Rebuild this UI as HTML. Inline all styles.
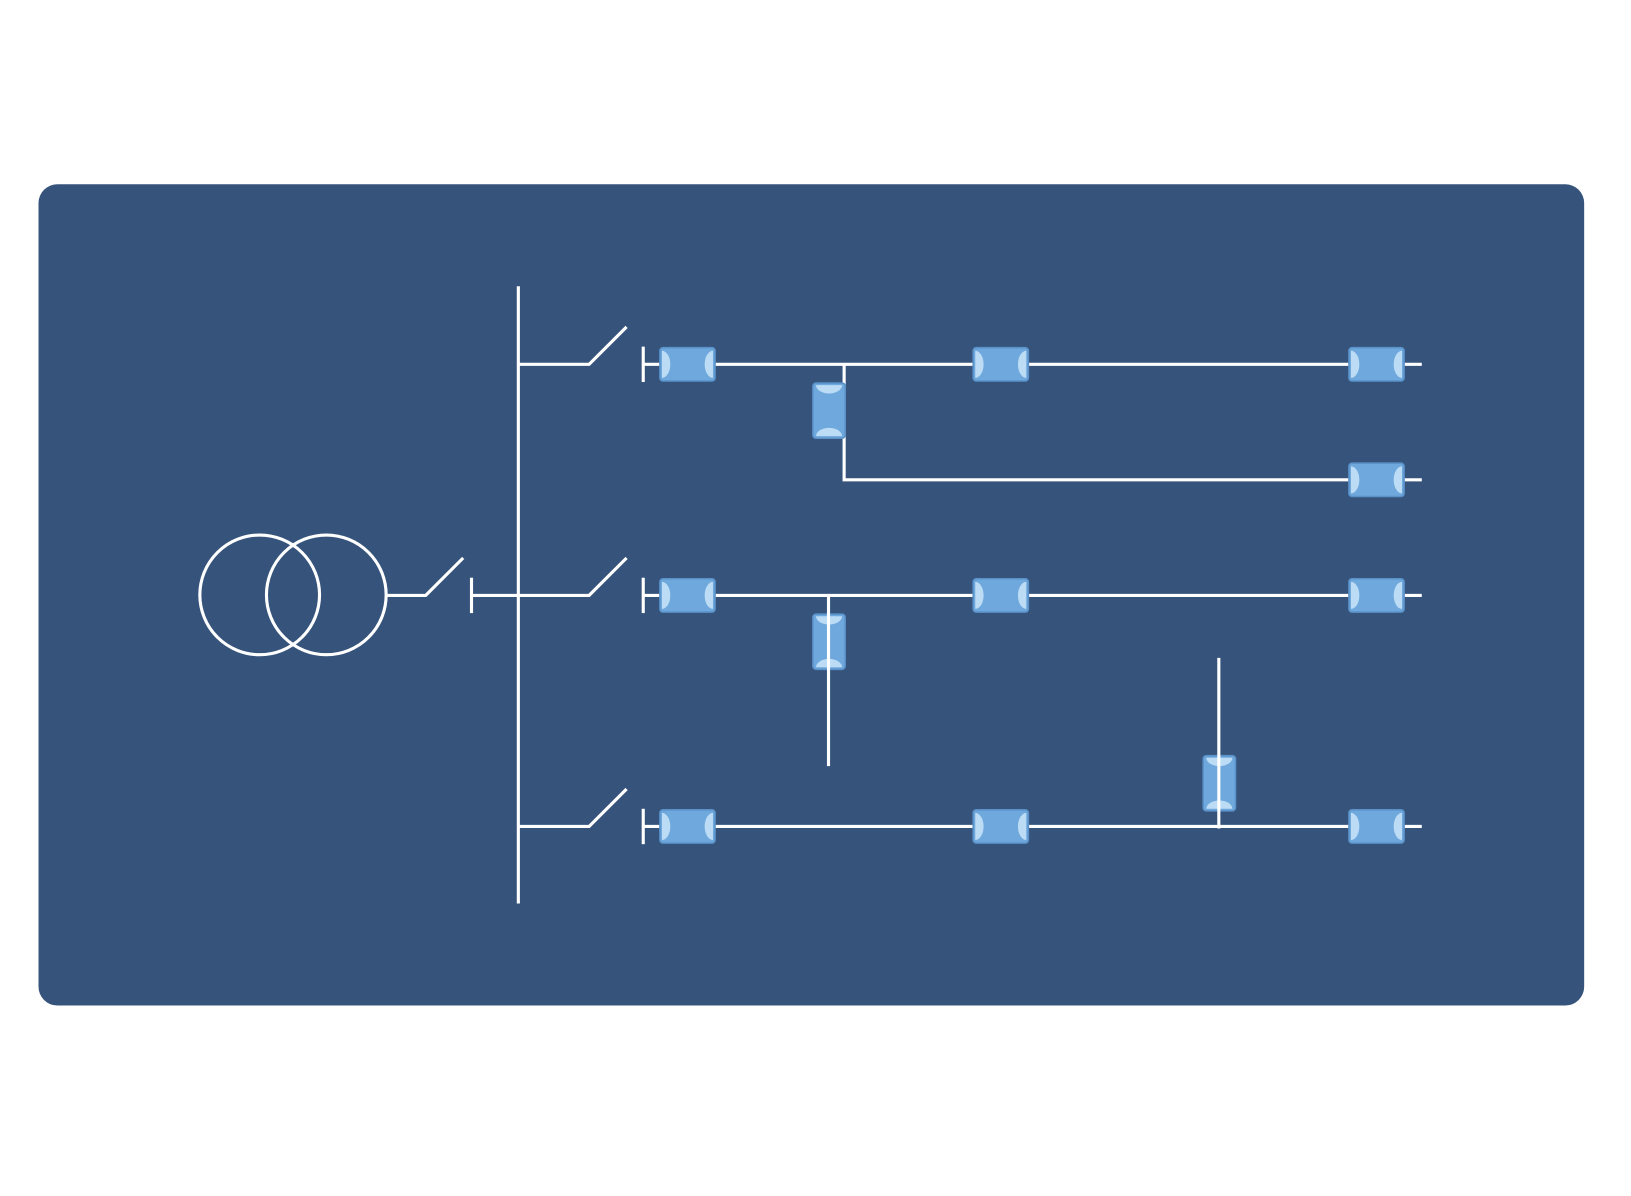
<!DOCTYPE html>
<html><head><meta charset="utf-8"><style>
html,body{margin:0;padding:0;background:#fff;}
svg{display:block;}
</style></head><body>
<svg width="1631" height="1196" viewBox="0 0 1567 1149" xmlns="http://www.w3.org/2000/svg">
<defs>
<g id="bh">
  <rect x="0" y="0" width="53" height="32" rx="3" fill="#6fa8dc" stroke="#5a92c9" stroke-width="1.5"/>
  <path d="M2,3 A8,13 0 0 1 2,29 Z" fill="#bcdcf5"/>
  <path d="M51,3 A8,13 0 0 0 51,29 Z" fill="#bcdcf5"/>
</g>
<g id="bv">
  <rect x="0" y="0" width="31" height="53" rx="3" fill="#6fa8dc" stroke="#5a92c9" stroke-width="1.5"/>
  <path d="M3,2 A12.5,8 0 0 0 28,2 Z" fill="#bcdcf5"/>
  <path d="M3,51 A12.5,8 0 0 1 28,51 Z" fill="#bcdcf5"/>
</g>
</defs>
<rect x="37" y="177" width="1485" height="789" rx="18" fill="#36547b"/>
<g stroke="#fff" stroke-width="3" fill="none">
  <circle cx="249.5" cy="571.5" r="57.5"/>
  <circle cx="313.5" cy="571.5" r="57.5"/>
  <polyline points="371,572 409,572 445,536"/>
  <line x1="453" y1="555" x2="453" y2="589"/>
  <line x1="453" y1="572" x2="498" y2="572"/>
  <line x1="498" y1="275" x2="498" y2="868"/>
  <polyline points="498,350 566,350 602,314"/>
  <polyline points="498,572 566,572 602,536"/>
  <polyline points="498,794 566,794 602,758"/>
  <line x1="618" y1="333" x2="618" y2="367"/>
  <line x1="618" y1="555" x2="618" y2="589"/>
  <line x1="618" y1="777" x2="618" y2="811"/>
  <line x1="618" y1="350" x2="1366" y2="350"/>
  <line x1="618" y1="572" x2="1366" y2="572"/>
  <line x1="618" y1="794" x2="1366" y2="794"/>
  <polyline points="811,350 811,461 1366,461"/>
</g>
<use href="#bh" x="634" y="334"/>
<use href="#bh" x="935" y="334"/>
<use href="#bh" x="1296" y="334"/>
<use href="#bh" x="1296" y="445"/>
<use href="#bh" x="634" y="556"/>
<use href="#bh" x="935" y="556"/>
<use href="#bh" x="1296" y="556"/>
<use href="#bh" x="634" y="778"/>
<use href="#bh" x="935" y="778"/>
<use href="#bh" x="1296" y="778"/>
<use href="#bv" x="781" y="368"/>
<use href="#bv" x="781" y="590"/>
<use href="#bv" x="1156" y="726"/>
<g stroke="#fff" stroke-width="3" fill="none">
  <line x1="796" y1="572" x2="796" y2="736"/>
  <line x1="1171" y1="632" x2="1171" y2="796"/>
</g>
</svg>
</body></html>
